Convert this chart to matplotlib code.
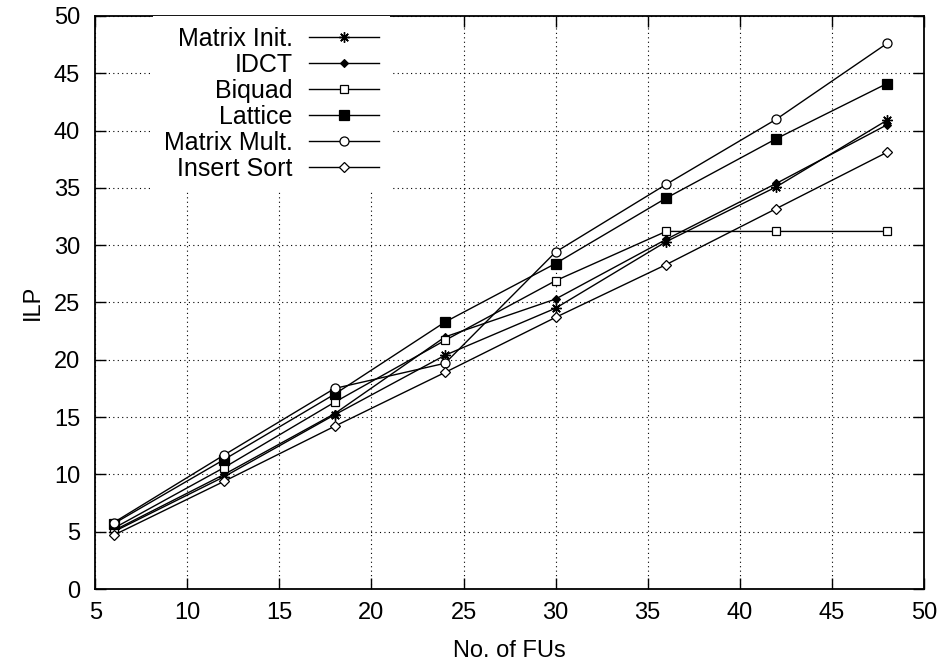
import matplotlib
matplotlib.use("Agg")
import matplotlib.pyplot as plt

plt.rcParams["font.family"] = ["Liberation Sans", "DejaVu Sans"]

fus = [6, 12, 18, 24, 30, 36, 42, 48]

matrix_init = [5.0, 9.8, 15.2, 20.4, 24.5, 30.3, 35.1, 40.9]
idct = [5.1, 10.0, 15.3, 22.0, 25.3, 30.5, 35.4, 40.5]
biquad = [5.3, 10.6, 16.3, 21.7, 26.9, 31.2, 31.2, 31.2]
lattice = [5.7, 11.3, 17.0, 23.3, 28.4, 34.1, 39.3, 44.1]
matrix_mult = [5.8, 11.7, 17.5, 19.7, 29.4, 35.3, 41.0, 47.6]
insert_sort = [4.7, 9.4, 14.2, 18.9, 23.7, 28.3, 33.2, 38.1]

series = [
    ("Matrix Init.", matrix_init, dict(marker=(8, 2, 0), ms=7.5, mfc="black", mew=1.0)),
    ("IDCT", idct, dict(marker="D", ms=3.8, mfc="black", mew=0.8)),
    ("Biquad", biquad, dict(marker="s", ms=6, mfc="white", mew=0.9)),
    ("Lattice", lattice, dict(marker="s", ms=6.5, mfc="black", mew=0.9)),
    ("Matrix Mult.", matrix_mult, dict(marker="o", ms=6.5, mfc="white", mew=0.9)),
    ("Insert Sort", insert_sort, dict(marker="D", ms=4.6, mfc="white", mew=0.9)),
]

fig = plt.figure(figsize=(9.4, 6.66), dpi=100)
ax = fig.add_axes([0.1014, 0.1156, 0.8813, 0.8604])

for label, vals, style in series:
    ax.plot(fus, vals, color="black", lw=1.0, mec="black", label=label, **style)

ax.set_xlim(5, 50)
ax.set_ylim(0, 50)
ax.set_xticks(range(5, 51, 5))
ax.set_yticks(range(0, 51, 5))
ax.grid(True, color="black", linestyle=(0, (1, 3)), lw=0.8)
ax.set_axisbelow(True)
ax.tick_params(direction="in", length=8, width=1, top=True, right=True,
               labelsize=17)
ax.tick_params(axis="x", pad=9)
ax.tick_params(axis="y", pad=11)
for sp in ax.spines.values():
    sp.set_linewidth(1.3)

ax.set_xlabel("No. of FUs", fontsize=17, labelpad=12)
ax.set_ylabel("ILP", fontsize=17, labelpad=7)

leg = ax.legend(loc="upper right", bbox_to_anchor=(0.356, 1.0), borderaxespad=0,
                markerfirst=False, fontsize=18, handlelength=2.8,
                labelspacing=0.08, handletextpad=0.65, borderpad=0.45,
                frameon=True, fancybox=False, framealpha=1.0,
                facecolor="white", edgecolor="none")
leg.get_frame().set_linewidth(0)

fig.savefig("out.png", dpi=100)
